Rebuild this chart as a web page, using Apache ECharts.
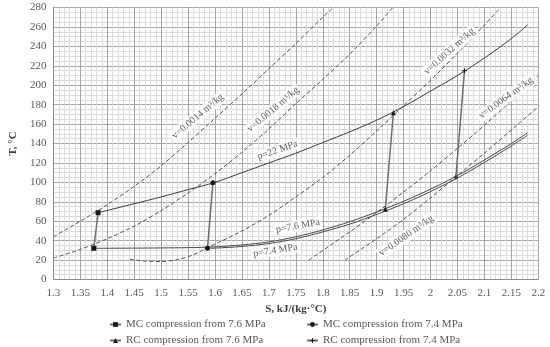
<!DOCTYPE html>
<html><head><meta charset="utf-8">
<script src="https://cdn.jsdelivr.net/npm/echarts/dist/echarts.min.js"></script>
<style>html,body{margin:0;padding:0;background:#fff}#c{width:550px;height:347px}</style>
</head><body><div id="c"></div>
<script>
// ---- Data (S in kJ/(kg·°C), T in °C) ----
const xTickValues = [1.3,1.35,1.4,1.45,1.5,1.55,1.6,1.65,1.7,1.75,1.8,1.85,1.9,1.95,2,2.05,2.1,2.15,2.2];
const yTickValues = [0,20,40,60,80,100,120,140,160,180,200,220,240,260,280];

// isochores (dashed)
const v0014 = [[1.3,44],[1.35,60],[1.4,77],[1.45,96],[1.5,117],[1.55,141],[1.6,166],[1.65,191],[1.7,217],[1.75,243],[1.8,270],[1.82,280]];
const v0018 = [[1.3,22],[1.35,31],[1.4,42],[1.45,55],[1.5,71],[1.55,89],[1.6,109],[1.65,131],[1.7,155],[1.75,181],[1.8,206],[1.85,232],[1.9,261],[1.93,280]];
const v0032 = [[1.442,20.8],[1.47,19],[1.5,18.5],[1.53,20.5],[1.56,25.5],[1.587,33],[1.65,50],[1.7,66],[1.75,85],[1.8,105],[1.85,128],[1.9,153],[1.95,179],[2.0,205],[2.05,233],[2.1,262],[2.13,280]];
const v0064 = [[1.774,20],[1.85,49],[1.9,69],[1.95,90],[2.0,112],[2.05,135],[2.1,159],[2.15,184],[2.2,210]];
const v0080 = [[1.841,20],[1.9,42],[1.95,62],[2.0,84],[2.05,107],[2.1,130],[2.15,154],[2.2,178]];

// isobars (solid)
const p22 = [[1.383,68.8],[1.45,78],[1.5,85],[1.55,92.5],[1.6,100],[1.65,110],[1.7,120],[1.75,130],[1.8,141],[1.85,152],[1.9,164],[1.95,178],[2.0,194],[2.05,210],[2.1,228],[2.15,248],[2.18,262]];
const p76 = [[1.375,32.1],[1.45,32.3],[1.5,32.5],[1.55,32.8],[1.6,33.6],[1.65,35.6],[1.7,38.7],[1.75,44],[1.8,51],[1.85,59.5],[1.9,69.5],[1.95,80.5],[2.0,93],[2.05,107],[2.1,123],[2.15,140],[2.18,151]];
const p74 = [[1.586,32.1],[1.6,32.3],[1.65,34],[1.7,37],[1.75,42],[1.8,49],[1.85,57],[1.9,67],[1.95,78],[2.0,90.5],[2.05,104.5],[2.1,120.5],[2.15,137.5],[2.18,148.5]];

// compression processes
const mc76 = [[1.375,32.1],[1.383,68.8]];
const mc74 = [[1.586,32.1],[1.596,99.6]];
const rc76 = [[1.916,72.3],[1.931,171.7]];
const rc74 = [[2.047,105.2],[2.063,215]];

const seriesNames = ['MC compression from 7.6 MPa','MC compression from 7.4 MPa','RC compression from 7.6 MPa','RC compression from 7.4 MPa'];

// curve labels
const labelTexts = ['v=0.0014 m³/kg','v=0.0018 m³/kg','v=0.0032 m³/kg','v=0.0064 m³/kg','v=0.0080 m³/kg','p=22 MPa','p=7.6 MPa','p=7.4 MPa'];
const labelAnchors = [[1.568,168],[1.708,175],[2.035,235],[2.14,187],[1.955,45],[1.716,133],[1.754,55],[1.712,30]];
const labelAngles = [40,40,42,36,35,19,10,9];

const FONT = 'Liberation Serif';
const dash = {type:[4,2.5], color:'#555', width:1};

function curve(data, style){
  return {type:'line', data, showSymbol:false, smooth:0.3, silent:true, z:2, lineStyle:style, emphasis:{disabled:true}};
}
function proc(name, data, symbol){
  return {name, type:'line', data, symbol, symbolSize:5, showSymbol:true, z:5,
    itemStyle:{color:'#1a1a1a'}, lineStyle:{color:'#6e6e6e', width:1.5}, emphasis:{disabled:true}};
}
const plusPath = 'path://M0,4L10,4L10,6L0,6Z M4,0L6,0L6,10L4,10Z';
function leg(name, left, top){
  return {data:[{name, textStyle:{fontFamily:FONT, fontSize:11, color:'#595959'}}],
    orient:'horizontal', left, top, itemWidth:11, itemHeight:6, padding:0, itemGap:0,
    selectedMode:false, textStyle:{fontFamily:FONT, fontSize:11, color:'#595959'}};
}

const chart = echarts.init(document.getElementById('c'), null, {renderer:'canvas'});
chart.setOption({
  animation:false,
  backgroundColor:'#fff',
  textStyle:{fontFamily:FONT},
  grid:{left:41.7, right:11.7, top:7.5, bottom:67.5, containLabel:false},
  xAxis:{type:'value', min:1.3, max:2.2, interval:0.05,
    name:'S, kJ/(kg·°C)', nameLocation:'middle', nameGap:23,
    nameTextStyle:{fontFamily:FONT, fontSize:11, fontWeight:'bold', color:'#404040'},
    axisLine:{show:true, lineStyle:{color:'#8c8c8c'}}, axisTick:{show:false},
    axisLabel:{fontFamily:FONT, fontSize:11, color:'#595959', margin:8,
      formatter:v=>{const r=Math.round(v*100)/100; return xTickValues.includes(r)?String(r):'';}},
    splitLine:{show:true, lineStyle:{color:'#a6a6a6', width:1}},
    minorTick:{show:false, splitNumber:5},
    minorSplitLine:{show:true, lineStyle:{color:'#dcdcdc', width:1}}},
  yAxis:{type:'value', min:0, max:280, interval:20,
    name:'T, °C', nameLocation:'middle', nameGap:27, nameRotate:90,
    nameTextStyle:{fontFamily:FONT, fontSize:11, fontWeight:'bold', color:'#404040'},
    axisLine:{show:true, lineStyle:{color:'#8c8c8c'}}, axisTick:{show:false},
    axisLabel:{fontFamily:FONT, fontSize:11, color:'#595959', margin:7,
      formatter:v=>yTickValues.includes(v)?String(v):''},
    splitLine:{show:true, lineStyle:{color:'#a6a6a6', width:1}},
    minorTick:{show:false, splitNumber:4},
    minorSplitLine:{show:true, lineStyle:{color:'#dcdcdc', width:1}}},
  legend:[
    leg(seriesNames[0], 109, 319),
    leg(seriesNames[1], 306, 319),
    leg(seriesNames[2], 109, 335),
    leg(seriesNames[3], 306, 335)
  ],
  series:[
    curve(v0014, dash), curve(v0018, dash), curve(v0032, dash), curve(v0064, dash), curve(v0080, dash),
    curve(p22, {color:'#3c3c3c', width:1}),
    curve(p76, {color:'#4a4a4a', width:1}),
    curve(p74, {color:'#4a4a4a', width:1}),
    proc(seriesNames[0], mc76, 'rect'),
    proc(seriesNames[1], mc74, 'circle'),
    proc(seriesNames[2], rc76, 'triangle'),
    proc(seriesNames[3], rc74, plusPath),
    {type:'scatter', silent:true, z:4, symbolSize:0,
      data: labelTexts.map((t,i)=>({value:labelAnchors[i], label:{formatter:t, rotate:labelAngles[i]}})),
      label:{show:true, position:'inside', backgroundColor:'#fff', padding:[1,2],
        fontFamily:FONT, fontSize:10, color:'#333'}}
  ]
});
</script></body></html>
